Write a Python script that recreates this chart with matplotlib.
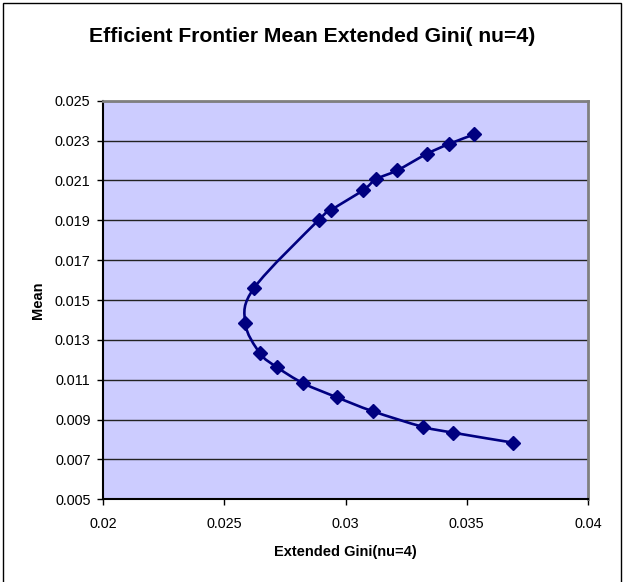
import matplotlib
matplotlib.use("Agg")
import matplotlib.pyplot as plt
from matplotlib.path import Path
from matplotlib.patches import PathPatch, Rectangle
import numpy as np

plt.rcParams['font.family'] = ['Liberation Sans', 'DejaVu Sans']

title = "Efficient Frontier Mean Extended Gini( nu=4)"
xlabel = "Extended Gini(nu=4)"
ylabel = "Mean"

gini = [0.03692, 0.03445, 0.03318, 0.03112, 0.02964, 0.02826, 0.02716, 0.02647,
        0.02586, 0.02624, 0.02889, 0.02942, 0.03074, 0.03126, 0.03214, 0.03335,
        0.03427, 0.03531]
mean = [0.00784, 0.00834, 0.00864, 0.00942, 0.01012, 0.01082, 0.01164, 0.01233,
        0.01386, 0.01562, 0.01901, 0.01952, 0.02052, 0.02106, 0.02151, 0.02233,
        0.02283, 0.02331]

xticks = [0.02, 0.025, 0.03, 0.035, 0.04]
xticklabels = ["0.02", "0.025", "0.03", "0.035", "0.04"]
yticks = [0.005, 0.007, 0.009, 0.011, 0.013, 0.015, 0.017, 0.019, 0.021, 0.023, 0.025]
yticklabels = ["0.005", "0.007", "0.009", "0.011", "0.013", "0.015", "0.017",
               "0.019", "0.021", "0.023", "0.025"]

navy = "#000080"

fig = plt.figure(figsize=(6.24, 5.82), dpi=100)
ax = fig.add_axes([103/624, 1-499.3/582, 485/624, 398.6/582])
ax.set_facecolor("#CCCCFF")

# Smoothed line (Excel-style Bezier through the points)
P = np.column_stack([gini, mean])
n = len(P)
verts = [tuple(P[0])]
codes = [Path.MOVETO]
for i in range(n - 1):
    p0 = P[i - 1] if i > 0 else P[i]
    p1 = P[i]
    p2 = P[i + 1]
    p3 = P[i + 2] if i + 2 < n else P[i + 1]
    c1 = p1 + (p2 - p0) / 6.0
    c2 = p2 - (p3 - p1) / 6.0
    verts += [tuple(c1), tuple(c2), tuple(p2)]
    codes += [Path.CURVE4] * 3
ax.add_patch(PathPatch(Path(verts, codes), facecolor="none", edgecolor=navy,
                       lw=1.9, zorder=3))
ax.plot(gini, mean, linestyle="none", marker="D", markersize=7.6,
        color=navy, markeredgecolor=navy, zorder=4)

ax.set_xlim(0.02, 0.04)
ax.set_ylim(0.005, 0.025)
ax.set_xticks(xticks)
ax.set_xticklabels(xticklabels)
ax.set_yticks(yticks)
ax.set_yticklabels(yticklabels)
ax.grid(axis="y", color="#222222", lw=1.0, zorder=1)
ax.set_axisbelow(True)

for s in ["top", "right"]:
    ax.spines[s].set_color("#808080")
    ax.spines[s].set_linewidth(2.0)
for s in ["left", "bottom"]:
    ax.spines[s].set_color("black")
    ax.spines[s].set_linewidth(1.5)

ax.tick_params(axis="both", direction="out", length=4, width=1, color="black",
               labelsize=10.4)
ax.tick_params(axis="y", pad=5)
ax.tick_params(axis="x", pad=9)

ax.set_xlabel(xlabel, fontsize=10.5, fontweight="bold", labelpad=10)
fig.text(38/624, 1-300/582, ylabel, rotation=90, fontsize=10.5,
         fontweight="bold", ha="center", va="center")
fig.text(312/624, 1-36/582, title, fontsize=15.2, fontweight="bold",
         ha="center", va="center")

# chart border
fig.add_artist(Rectangle((3/624, -0.05), 618/624, 1.05 - 3/582, transform=fig.transFigure,
                         facecolor="none", edgecolor="black", lw=1.0))

fig.savefig("out.png", dpi=100)
